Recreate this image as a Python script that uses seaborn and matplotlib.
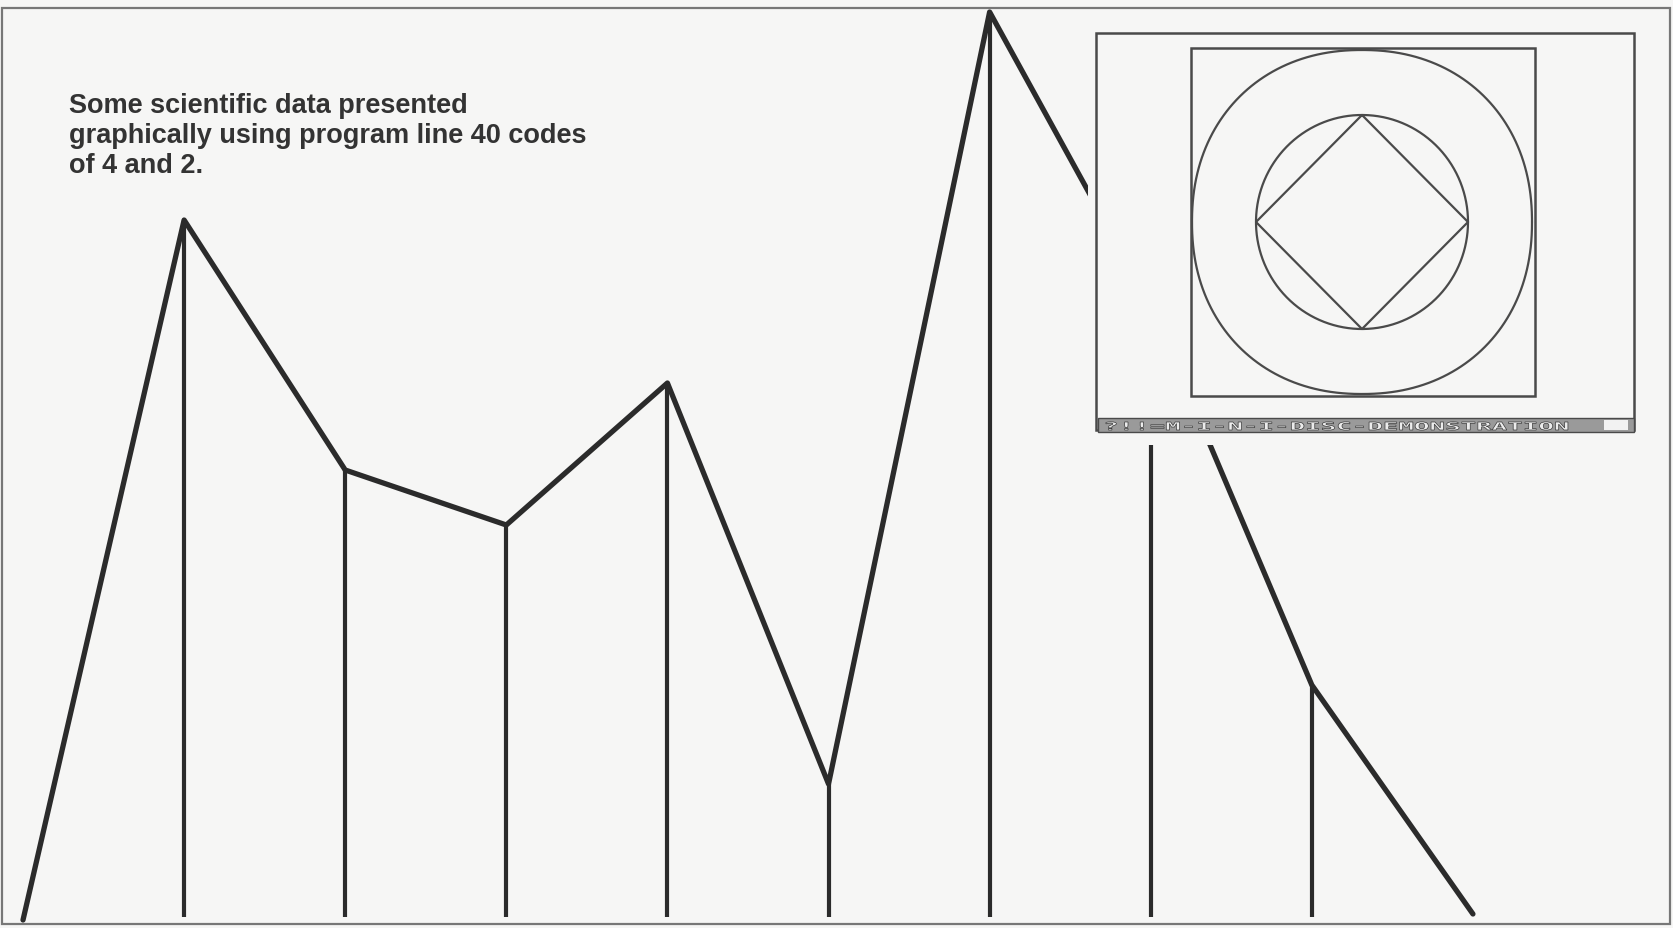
import numpy as np
import pandas as pd
import matplotlib
matplotlib.use("Agg")
import matplotlib.pyplot as plt
import matplotlib.patches as mpatches
from matplotlib.textpath import TextPath
from matplotlib.font_manager import FontProperties
from matplotlib.transforms import Affine2D
import seaborn as sns

# readings off the screen dump: heights above the baseline, in screen units
points = [0, 1, 2, 3, 4, 5, 6, 7, 8, 9]
heights = [-3, 697, 447, 392, 534, 133, 905, 612, 232, 3]
stem_points = points[1:9]
stem_heights = heights[1:9]

caption = "Some scientific data presented\ngraphically using program line 40 codes\nof 4 and 2."
strip_label = "?!!=M-I-N-I-DISC-DEMONSTRATION"

paper = "#f6f6f5"
ink = "#2b2b2b"

sns.set_theme(style="white")
plt.rcParams["font.family"] = ["Liberation Sans", "DejaVu Sans"]

fig = plt.figure(figsize=(16.74, 9.29), dpi=100, facecolor=paper)

# main plot
ax = fig.add_axes([0, 0, 1, 1])
ax.set_facecolor(paper)
df = pd.DataFrame({"point": points, "height": heights})
sns.lineplot(data=df, x="point", y="height", color=ink, linewidth=3.8, ax=ax)
ax.vlines(stem_points, 0, stem_heights, color=ink, linewidth=3.0)
ax.set_xlim(-0.1428, 10.248)
ax.set_ylim(-11, 918)
ax.axis("off")

# overlay in pixel coords for the pasted-in photo, caption and page frame
ov = fig.add_axes([0, 0, 1, 1], zorder=5)
ov.set_xlim(0, 1674)
ov.set_ylim(929, 0)
ov.patch.set_alpha(0)
ov.axis("off")

ov.add_patch(mpatches.Rectangle((1088, 16), 572, 430, facecolor=paper, edgecolor="none"))
gray = "#4a4a4a"
ov.add_patch(mpatches.Rectangle((1096, 34), 538, 397, fill=False, edgecolor=gray, linewidth=1.8))
ov.add_patch(mpatches.Rectangle((1191, 49), 344, 348, fill=False, edgecolor=gray, linewidth=1.8))

t = np.linspace(0, 2 * np.pi, 400)
n = 2.15
cx, cy = 1362, 223
bx = 170 * np.sign(np.cos(t)) * np.abs(np.cos(t)) ** (2 / n)
by = 172 * np.sign(np.sin(t)) * np.abs(np.sin(t)) ** (2 / n)
ov.plot(cx + bx, cy + by, color=gray, linewidth=1.6)
ov.plot(cx + 106 * np.cos(t), 223 + 107 * np.sin(t), color=gray, linewidth=1.6)
ov.plot([1362, 1468, 1362, 1256, 1362], [116, 223, 330, 223, 116], color=gray, linewidth=1.6)

# status strip under the screen, stretched wide like the screen font
ov.add_patch(mpatches.Rectangle((1098, 419), 536, 14, facecolor="#9a9a9a", edgecolor=gray, linewidth=1))
ov.add_patch(mpatches.Rectangle((1604, 421), 24, 10, facecolor="#f2f2f2", edgecolor="none"))
tp = TextPath((0, 0), strip_label, size=11, prop=FontProperties(family="DejaVu Sans Mono", weight="bold"))
w = tp.get_extents().width
tr = Affine2D().scale(462 / w, -1.0).translate(1103, 431)
ov.add_patch(mpatches.PathPatch(tr.transform_path(tp), facecolor="#ececec", edgecolor="#3a3a3a", linewidth=0.5))

ov.text(69, 93, caption, fontsize=19.5, fontweight="bold", color="#333333",
        va="top", ha="left", linespacing=1.2)

# page frame
ov.add_patch(mpatches.Rectangle((2, 9), 1668, 916, fill=False, edgecolor="#777777", linewidth=1.6))

fig.savefig("out.png", dpi=100, facecolor=paper)
